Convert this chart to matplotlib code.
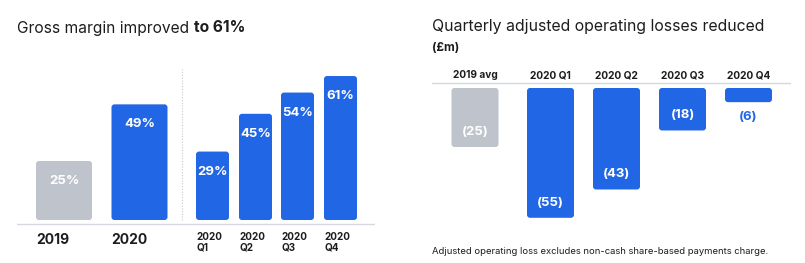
import matplotlib
matplotlib.use("Agg")
import matplotlib.pyplot as plt
from matplotlib.patches import FancyBboxPatch

plt.rcParams['font.family'] = ['Inter', 'DejaVu Sans']

# data
annual_labels = ["2019", "2020"]
annual_margin = [25, 49]
quarter_labels = ["2020\nQ1", "2020\nQ2", "2020\nQ3", "2020\nQ4"]
quarter_margin = [29, 45, 54, 61]
loss_labels = ["2019 avg", "2020 Q1", "2020 Q2", "2020 Q3", "2020 Q4"]
losses = [25, 55, 43, 18, 6]

BLUE = "#2166E5"
GREY = "#BEC3CC"
DARK = "#1d1d1f"
W, H = 805, 263
PX_PER_UNIT = 2.36

fig = plt.figure(figsize=(W / 100, H / 100), dpi=100)


def px_axes(x0, y0, x1, y1):
    ax = fig.add_axes([x0 / W, 1 - y1 / H, (x1 - x0) / W, (y1 - y0) / H])
    ax.set_xlim(0, x1 - x0)
    ax.axis("off")
    return ax


def round_bars(ax, bars, r=3):
    aspect = 1 / PX_PER_UNIT
    for b in bars:
        x, y = b.get_x(), b.get_y()
        w, h = b.get_width(), b.get_height()
        if h < 0:
            y, h = y + h, -h
        b.remove()
        ax.add_patch(FancyBboxPatch((x, y), w, h,
                                    boxstyle=f"round,pad=0,rounding_size={r}",
                                    mutation_aspect=aspect,
                                    fc=b.get_facecolor(), ec="none"))


# ---- left chart: gross margin
ax1 = px_axes(17, 60, 375, 260)
ax1.set_ylim(-(260 - 220) / PX_PER_UNIT, (220 - 60) / PX_PER_UNIT)
annual_x = [47, 122.5]
quarter_x = [195.5, 238.5, 280.5, 323.5]

b1 = ax1.bar(annual_x, annual_margin, width=56, color=[GREY, BLUE])
b2 = ax1.bar(quarter_x, quarter_margin, width=33, color=BLUE)
round_bars(ax1, list(b1) + list(b2))

for x, v in zip(annual_x + quarter_x, annual_margin + quarter_margin):
    ax1.text(x, v - 20 / PX_PER_UNIT, f"{v}%", color="white", fontsize=9.5,
             fontweight="bold", ha="center", va="center")

ax1.axhline(-4 / PX_PER_UNIT, color="#d5d8de", lw=1)
ax1.plot([165, 165], [0, 64], color="#c8c8c8", lw=0.8, ls=(0, (1, 1.5)))

for x, lab in zip(annual_x, annual_labels):
    ax1.text(x - 28, -20 / PX_PER_UNIT, lab, color=DARK, fontsize=10,
             fontweight="bold", ha="left", va="center")
for x, lab in zip(quarter_x, quarter_labels):
    ax1.text(x - 16, -12 / PX_PER_UNIT, lab, color=DARK, fontsize=7.2,
             fontweight="bold", ha="left", va="top", linespacing=1.1)

t = fig.text(17 / W, 1 - 28 / H, "Gross margin improved ", fontsize=11.2,
             color=DARK, va="center", ha="left")
fig.canvas.draw()
bb = t.get_window_extent()
fig.text(bb.x1 / W, 1 - 28 / H, "to 61%", fontsize=11.2, color=DARK,
         fontweight="bold", va="center", ha="left")

# ---- right chart: quarterly losses
ax2 = px_axes(432, 60, 791, 260)
ax2.set_ylim(-(260 - 88) / PX_PER_UNIT, (88 - 60) / PX_PER_UNIT)
loss_x = [43, 118.5, 184.5, 250.5, 316.5]
b3 = ax2.bar(loss_x, [-v for v in losses], width=47,
             color=[GREY] + [BLUE] * (len(losses) - 1))
round_bars(ax2, b3)

ax2.axhline(5 / PX_PER_UNIT, color="#d5d8de", lw=1)
for x, lab in zip(loss_x, loss_labels):
    ax2.text(x, 13 / PX_PER_UNIT, lab, color=DARK, fontsize=7.3,
             fontweight="bold", ha="center", va="center")
for x, v in zip(loss_x, losses):
    if v * PX_PER_UNIT > 25:
        ax2.text(x, -v + 15 / PX_PER_UNIT, f"({v})", color="white",
                 fontsize=9.5, fontweight="bold", ha="center", va="center")
    else:
        ax2.text(x, -v - 15 / PX_PER_UNIT, f"({v})", color=BLUE,
                 fontsize=9.5, fontweight="bold", ha="center", va="center")

fig.text(432 / W, 1 - 27 / H, "Quarterly adjusted operating losses reduced",
         fontsize=11.4, color=DARK, va="center", ha="left")
fig.text(432 / W, 1 - 48 / H, "(£m)", fontsize=8.5, color=DARK,
         fontweight="bold", va="center", ha="left")
fig.text(432 / W, 1 - 251 / H,
         "Adjusted operating loss excludes non-cash share-based payments charge.",
         fontsize=6.8, color=DARK, va="center", ha="left")

fig.savefig("out.png", dpi=100, facecolor="white")
